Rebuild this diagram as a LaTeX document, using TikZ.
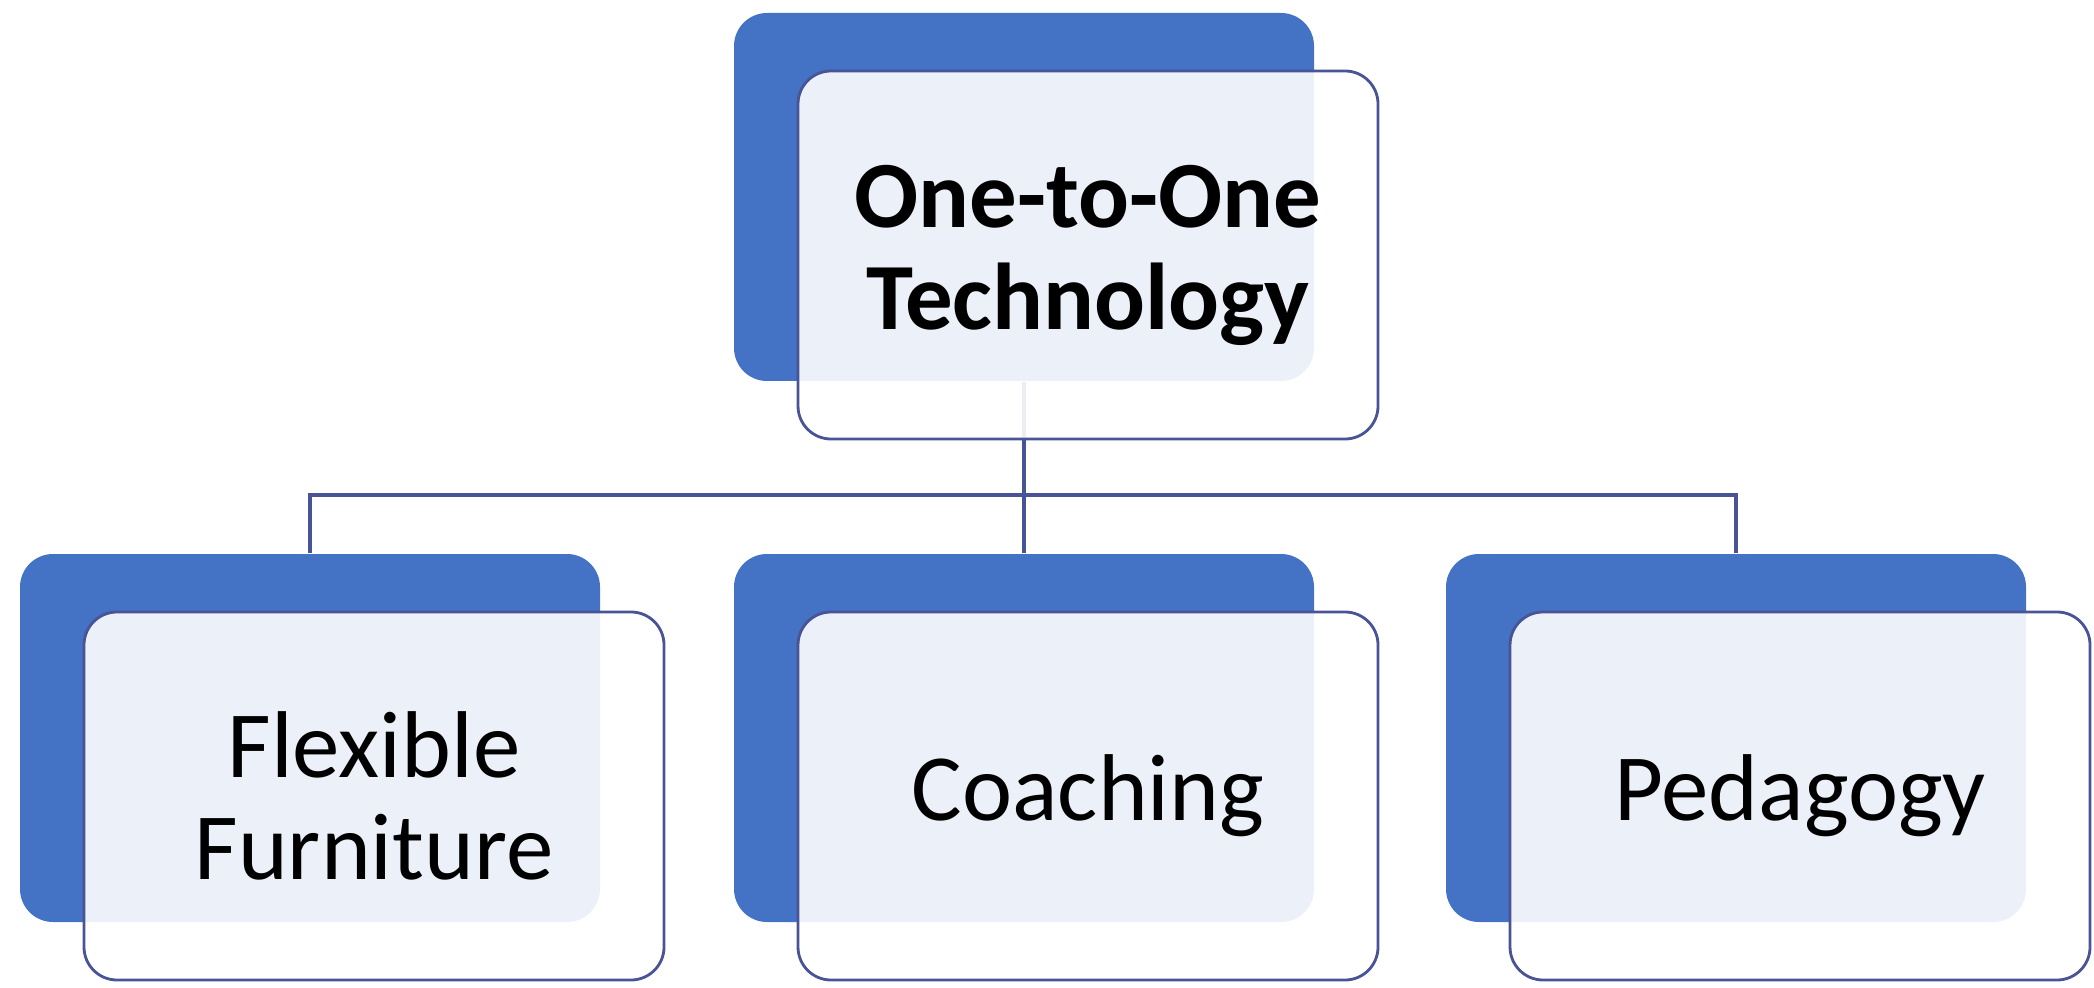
\documentclass[tikz,border=0pt]{standalone}
\usepackage{fontspec}
\setmainfont{Carlito}
\definecolor{backblue}{RGB}{68,114,196}
\definecolor{linecol}{RGB}{72,84,150}
\tikzset{
	backbox/.style={fill=backblue,draw=none,rounded corners=0.33cm,minimum width=5.8cm,minimum height=3.68cm,inner sep=0pt},
	frontbox/.style={fill=white,fill opacity=0.9,text opacity=1,draw=linecol,line width=0.8pt,rounded corners=0.33cm,minimum width=5.8cm,minimum height=3.68cm,inner sep=0pt,align=center,font=\fontsize{27}{29}\selectfont},
	link/.style={draw=linecol,line width=1pt}
}
\begin{document}
\begin{tikzpicture}
	\useasboundingbox (0,0) rectangle (20.94,9.87);

	% back boxes
	\node[backbox] (topback) at (10.24,7.90) {};
	\node[backbox] (leftback) at (3.10,2.49) {};
	\node[backbox] (midback) at (10.24,2.49) {};
	\node[backbox] (rightback) at (17.36,2.49) {};

	% links
	\coordinate (bus) at (10.24,4.92);
	\draw[link] (topback.south) -- (midback.north);
	\draw[link] (leftback.north) |- (bus) -| (rightback.north);

	% front boxes
	\node[frontbox] (top) at (10.88,7.32) {\textbf{One-to-One}\\\textbf{Technology}};
	\node[frontbox] (left) at (3.74,1.91) {Flexible\\Furniture};
	\node[frontbox] (mid) at (10.88,1.91) {Coaching};
	\node[frontbox] (right) at (18.00,1.91) {Pedagogy};
\end{tikzpicture}
\end{document}
